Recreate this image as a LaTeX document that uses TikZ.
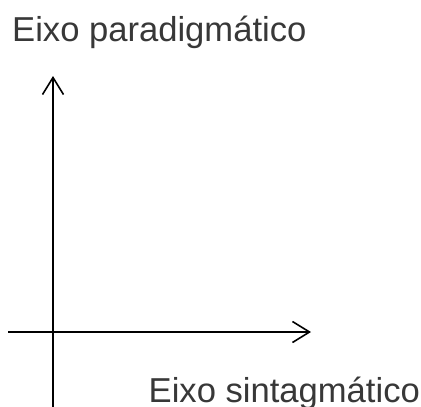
\documentclass[tikz,border=0pt]{standalone}
\usepackage{fontspec}
\setmainfont{Liberation Sans}
\usetikzlibrary{arrows.meta}
\begin{document}
\begin{tikzpicture}[x=1pt,y=-1pt,
  axis/.style={line width=1.6pt,black,-{Straight Barb[length=17pt,width=21pt,line width=1.6pt]}},
  lbl/.style={anchor=base west,inner sep=0pt,text=black!78,font=\fontsize{34.6}{40}\selectfont}]
\useasboundingbox (0,0) rectangle (421,407);
\node[lbl] (tp) at (12,41) {Eixo paradigmático};
\node[lbl] (bt) at (148.5,402) {Eixo sintagmático};
\coordinate (vb) at (53,407);
\coordinate (vt) at (53,76);
\coordinate (hl) at (8,332);
\coordinate (hr) at (311,332);
\draw[axis] (vb) -- (vt);
\draw[axis] (hl) -- (hr);
\end{tikzpicture}
\end{document}
